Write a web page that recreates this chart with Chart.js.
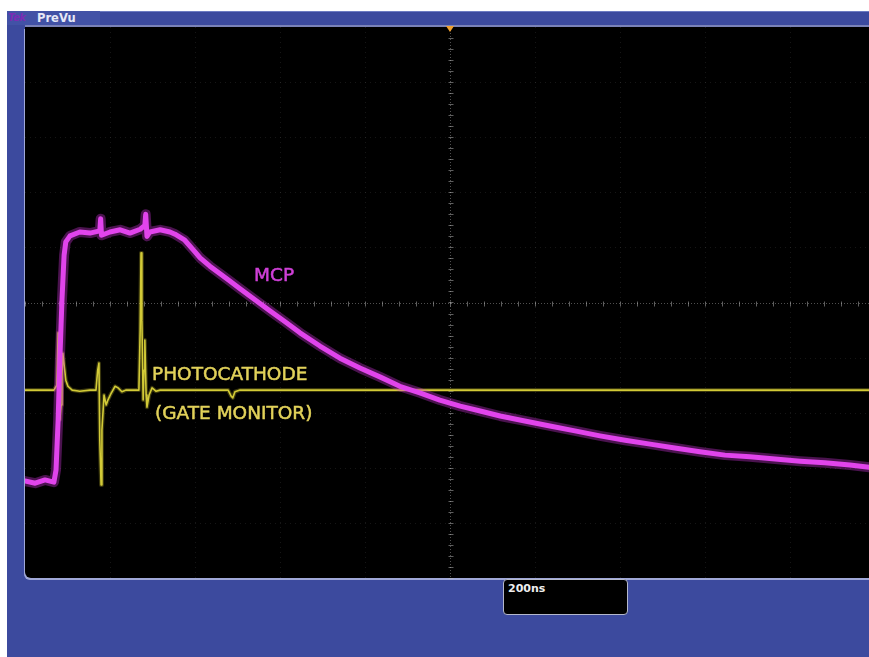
<!DOCTYPE html>
<html>
<head>
<meta charset="utf-8">
<script src="https://cdn.jsdelivr.net/npm/chart.js"></script>
<style>
  html, body { margin: 0; padding: 0; background: #fff; overflow: hidden; width: 869px; height: 657px; }
  #frame { position: absolute; left: 7px; top: 11px; width: 862px; height: 646px; background: #3c4a9e; }
  #barline { position: absolute; left: 100px; top: 11px; width: 769px; height: 1px; background: #6c7bc2; }
  #tab { position: absolute; left: 7px; top: 11px; width: 93px; height: 14px; background: #4252a6; }
  #tek { position: absolute; left: 8px; top: 12px; font: bold italic 10px "DejaVu Sans", sans-serif; color: #7a2cb4; letter-spacing: -0.5px; }
  #prevu { position: absolute; left: 37px; top: 11px; font: bold 11.5px "DejaVu Sans", sans-serif; color: #e6e8f6; line-height: 14px; }
  #sep { position: absolute; left: 25px; top: 25px; width: 844px; height: 2px; background: #7a82b8; }
  #screen { position: absolute; left: 25px; top: 27px; width: 850px; height: 551px; background: #000;
            border-bottom-left-radius: 6px; box-shadow: -1px 2px 0 0 #a0a8d8; }
  #trig { position: absolute; left: 446px; top: 26px; width: 0; height: 0;
          border-left: 4px solid transparent; border-right: 4px solid transparent; border-top: 6px solid #f0a030; }
  #scalebox { position: absolute; left: 503px; top: 579px; width: 123px; height: 34px; background: #000;
              border: 1px solid #b4b8cc; border-radius: 4px; }
  #scale { position: absolute; left: 508px; top: 582px; font: bold 11px "DejaVu Sans", sans-serif; color: #eeeeee; }
  #plot { position: absolute; left: 0; top: 0; width: 869px; height: 657px; overflow: hidden; }
  .lbl { position: absolute; font: 18.5px "DejaVu Sans", sans-serif; line-height: 1; white-space: nowrap;
         -webkit-text-stroke: 0.5px currentColor; }
  #mcp { left: 254px; top: 266px; color: #d040d8; }
  #pc1 { left: 152px; top: 365px; color: #e2d25a; }
  #pc2 { left: 155px; top: 404px; color: #e2d25a; }
</style>
</head>
<body>
<div id="frame"></div>
<div id="barline"></div>
<div id="tab"></div>
<div id="tek">Tek</div>
<div id="prevu">PreVu</div>
<div id="sep"></div>
<div id="screen"></div>
<div id="scalebox"></div>
<div id="scale">200ns</div>
<div id="plot"><canvas id="scope" width="880" height="657"></canvas></div>
<div id="trig"></div>
<div class="lbl" id="mcp">MCP</div>
<div class="lbl" id="pc1">PHOTOCATHODE</div>
<div class="lbl" id="pc2">(GATE MONITOR)</div>

<script>
// time in ns relative to trigger (200 ns/div), level in screen divisions
const mcpTime = [-1000, -976, -953, -932, -927, -922, -918, -913, -908, -904, -894, -871, -847, -824, -822, -820,
  -800, -776, -753, -729, -718, -716, -713, -706, -682, -659, -647, -624, -600, -588, -565, -541, -518, -494, -459,
  -424, -388, -353, -306, -259, -212, -165, -118, -71, -24, 24, 71, 118, 176, 235, 294, 353, 412, 471, 529,
  588, 647, 706, 765, 824, 882, 941, 986, 1000];
const mcpLevel = [-3.24, -3.28, -3.22, -3.26, -3.04, -2.13, -1.04, 0.05, 0.86, 1.10, 1.21, 1.28, 1.26, 1.30, 1.52, 1.22,
  1.28, 1.32, 1.26, 1.33, 1.40, 1.60, 1.20, 1.28, 1.32, 1.28, 1.24, 1.13, 0.92, 0.81, 0.66, 0.52, 0.39, 0.25, 0.05,
  -0.15, -0.35, -0.55, -0.79, -1.01, -1.19, -1.35, -1.52, -1.64, -1.77, -1.88, -1.97, -2.06, -2.15, -2.24, -2.33,
  -2.42, -2.50, -2.57, -2.64, -2.71, -2.77, -2.80, -2.84, -2.88, -2.91, -2.95, -2.99, -3.00];

const gateTime = [-1000, -932, -925, -922, -920, -918, -915, -913, -911, -908, -904, -899, -889, -871, -847, -833,
  -829, -826, -824, -821, -819, -814, -809, -805, -798, -788, -781, -772, -762, -741, -732, -729, -727, -725,
  -722, -720, -718, -715, -713, -708, -701, -692, -682, -522, -515, -511, -506, -494, 1000];
const gateLevel = [-1.59, -1.59, -1.50, -0.55, -1.04, -2.13, -1.86, -1.32, -0.92, -1.13, -1.41, -1.52, -1.59, -1.61, -1.59, -1.59,
  -1.23, -1.10, -2.50, -3.31, -2.31, -1.68, -1.86, -1.77, -1.66, -1.52, -1.55, -1.62, -1.59, -1.59, -1.59, -0.50, 0.90, -0.32,
  -1.77, -1.23, -0.68, -1.68, -1.90, -1.68, -1.55, -1.61, -1.59, -1.59, -1.70, -1.73, -1.62, -1.59, -1.59];

// graticule: 10 x 10 divisions
const divTimes = [-800, -600, -400, -200, 200, 400, 600, 800];
const divLevels = [-4, -3, -2, -1, 1, 2, 3, 4];

function points(xs, ys) {
  return xs.map((t, i) => ({ x: t, y: ys[i] }));
}

const scopeGrid = {
  id: 'scopeGrid',
  beforeDatasetsDraw(chart) {
    const { ctx, chartArea: a, scales: { x, y } } = chart;
    ctx.save();
    ctx.lineWidth = 1;
    ctx.strokeStyle = 'rgba(120,120,120,0.18)';
    ctx.setLineDash([1, 4]);
    divTimes.forEach(t => {
      const px = Math.round(x.getPixelForValue(t)) + 0.5;
      ctx.beginPath(); ctx.moveTo(px, a.top); ctx.lineTo(px, a.bottom); ctx.stroke();
    });
    divLevels.forEach(v => {
      const py = Math.round(y.getPixelForValue(v)) + 0.5;
      ctx.beginPath(); ctx.moveTo(a.left, py); ctx.lineTo(a.right, py); ctx.stroke();
    });
    // centre crosshair with minor ticks
    const cx = Math.round(x.getPixelForValue(0)) + 0.5;
    const cy = Math.round(y.getPixelForValue(0)) + 0.5;
    ctx.strokeStyle = 'rgba(175,175,175,0.45)';
    ctx.setLineDash([1, 2]);
    ctx.beginPath(); ctx.moveTo(cx, a.top); ctx.lineTo(cx, a.bottom); ctx.stroke();
    ctx.beginPath(); ctx.moveTo(a.left, cy); ctx.lineTo(a.right, cy); ctx.stroke();
    ctx.setLineDash([]);
    ctx.strokeStyle = 'rgba(190,190,190,0.5)';
    for (let t = -1000; t <= 1000; t += 40) {
      const px = Math.round(x.getPixelForValue(t)) + 0.5;
      ctx.beginPath(); ctx.moveTo(px, cy - 2); ctx.lineTo(px, cy + 3); ctx.stroke();
    }
    for (let v = -5; v <= 5; v += 0.2) {
      const py = Math.round(y.getPixelForValue(v)) + 0.5;
      ctx.beginPath(); ctx.moveTo(cx - 2, py); ctx.lineTo(cx + 3, py); ctx.stroke();
    }
    ctx.restore();
  }
};

new Chart(document.getElementById('scope'), {
  type: 'line',
  data: {
    datasets: [
      { label: 'MCP glow', data: points(mcpTime, mcpLevel), borderColor: 'rgba(215,55,225,0.35)', borderWidth: 10 },
      { label: 'MCP', data: points(mcpTime, mcpLevel), borderColor: '#e64cf2', borderWidth: 5 },
      { label: 'Gate glow', data: points(gateTime, gateLevel), borderColor: 'rgba(190,180,40,0.30)', borderWidth: 4 },
      { label: 'Photocathode', data: points(gateTime, gateLevel), borderColor: '#dcd53e', borderWidth: 1.6 }
    ]
  },
  options: {
    responsive: false,
    animation: false,
    devicePixelRatio: 1,
    layout: { padding: { left: 25, top: 27, right: 5, bottom: 79 } },
    elements: {
      point: { radius: 0 },
      line: { tension: 0, borderJoinStyle: 'round', borderCapStyle: 'round' }
    },
    scales: {
      x: { type: 'linear', min: -1000, max: 1000, display: false },
      y: { type: 'linear', min: -5, max: 5, display: false }
    },
    plugins: { legend: { display: false }, tooltip: { enabled: false } }
  },
  plugins: [scopeGrid]
});
</script>
</body>
</html>
